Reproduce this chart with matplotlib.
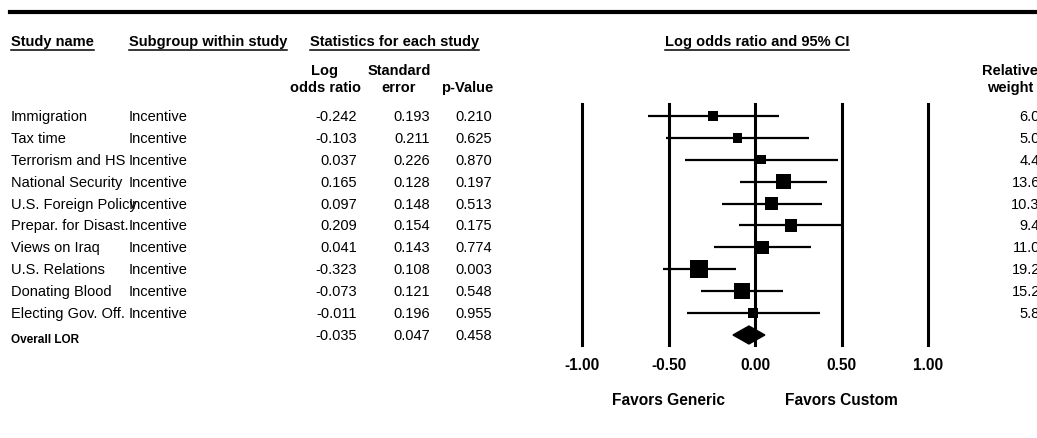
import numpy as np
import matplotlib
matplotlib.use('Agg')
import matplotlib.pyplot as plt
from matplotlib.lines import Line2D
from matplotlib.transforms import blended_transform_factory

studies = ['Immigration', 'Tax time', 'Terrorism and HS', 'National Security',
           'U.S. Foreign Policy', 'Prepar. for Disast.', 'Views on Iraq',
           'U.S. Relations', 'Donating Blood', 'Electing Gov. Off.']
subgroups = ['Incentive'] * 10
lor = [-0.242, -0.103, 0.037, 0.165, 0.097, 0.209, 0.041, -0.323, -0.073, -0.011]
se = [0.193, 0.211, 0.226, 0.128, 0.148, 0.154, 0.143, 0.108, 0.121, 0.196]
pval = [0.210, 0.625, 0.870, 0.197, 0.513, 0.175, 0.774, 0.003, 0.548, 0.955]
weights = [6.02, 5.04, 4.41, 13.63, 10.31, 9.42, 11.02, 19.24, 15.23, 5.84]
overall_lor, overall_se, overall_p = -0.035, 0.047, 0.458
ticks = [-1.0, -0.5, 0.0, 0.5, 1.0]

plt.rcParams['font.family'] = 'Liberation Sans'
W, H = 1037, 438
FS = 10.5
FS_AX = 11.2


def fx(x):
    return x / W


def fy(y):
    return 1 - y / H


fig = plt.figure(figsize=(W / 100, H / 100), dpi=100)

# thick rule at the top
fig.add_artist(Line2D([fx(10), fx(1037)], [fy(11.5), fy(11.5)], lw=3, color='black'))

# header row (underlined)
headers = [(11, 'Study name'), (129, 'Subgroup within study'), (310, 'Statistics for each study')]
hdr_texts = [fig.text(fx(x), fy(46), s, fontsize=FS, fontweight='bold', ha='left', va='baseline')
             for x, s in headers]
hdr_texts.append(fig.text(fx(757), fy(46), 'Log odds ratio and 95% CI', fontsize=FS,
                          fontweight='bold', ha='center', va='baseline'))

# column headers
col_hdr = [(325, 'Log', 'odds ratio'), (399, 'Standard', 'error'), (467, '', 'p-Value'),
           (1010, 'Relative', 'weight')]
for x, l1, l2 in col_hdr:
    fig.text(fx(x), fy(75), l1, fontsize=FS, fontweight='bold', ha='center', va='baseline')
    fig.text(fx(x), fy(92), l2, fontsize=FS, fontweight='bold', ha='center', va='baseline')

# table rows
row0, step = 121, 21.9
for i in range(len(studies)):
    yb = fy(row0 + i * step)
    fig.text(fx(11), yb, studies[i], fontsize=FS, va='baseline')
    fig.text(fx(129), yb, subgroups[i], fontsize=FS, va='baseline')
    fig.text(fx(357), yb, f'{lor[i]:.3f}', fontsize=FS, ha='right', va='baseline')
    fig.text(fx(430), yb, f'{se[i]:.3f}', fontsize=FS, ha='right', va='baseline')
    fig.text(fx(492), yb, f'{pval[i]:.3f}', fontsize=FS, ha='right', va='baseline')
    fig.text(fx(1048), yb, f'{weights[i]:.2f}', fontsize=FS, ha='right', va='baseline')

yb = fy(row0 + 10 * step)
fig.text(fx(11), fy(343), 'Overall LOR', fontsize=8.5, fontweight='bold', va='baseline')
fig.text(fx(357), yb, f'{overall_lor:.3f}', fontsize=FS, ha='right', va='baseline')
fig.text(fx(430), yb, f'{overall_se:.3f}', fontsize=FS, ha='right', va='baseline')
fig.text(fx(492), yb, f'{overall_p:.3f}', fontsize=FS, ha='right', va='baseline')

# forest plot
ax = fig.add_axes([fx(582), fy(345), (928 - 582) / W, (345 - 104) / H])
ax.set_xlim(-1, 1)
ax.set_ylim(10.457, -0.548)
for s in ax.spines.values():
    s.set_visible(False)
ax.set_yticks([])
ax.set_xticks(ticks, [f'{t:.2f}' for t in ticks], fontsize=FS_AX, fontweight='bold')
ax.tick_params(axis='x', length=0, pad=9)
for t in ticks:
    ax.axvline(t, color='black', lw=2.2, clip_on=False)

rows = np.arange(len(studies))
lor_a, se_a = np.array(lor), np.array(se)
ax.hlines(rows, lor_a - 1.96 * se_a, lor_a + 1.96 * se_a, color='black', lw=1.6, zorder=3)
side_pt = 4.1 * np.sqrt(weights) * 0.72
ax.scatter(lor_a, rows, marker='s', s=side_pt ** 2, color='black', linewidths=0, zorder=4)

lo, hi = overall_lor - 1.96 * overall_se, overall_lor + 1.96 * overall_se
ax.fill([lo, overall_lor, hi, overall_lor], [10, 9.59, 10, 10.41], color='black', zorder=4)

tr = blended_transform_factory(ax.transData, fig.transFigure)
ax.text(-0.5, fy(405), 'Favors Generic', transform=tr, fontsize=FS_AX, fontweight='bold',
        ha='center', va='baseline')
ax.text(0.5, fy(405), 'Favors Custom', transform=tr, fontsize=FS_AX, fontweight='bold',
        ha='center', va='baseline')

# underline header texts
fig.canvas.draw()
r = fig.canvas.get_renderer()
for t in hdr_texts:
    bb = t.get_window_extent(r)
    fig.add_artist(Line2D([bb.x0 / W, bb.x1 / W], [fy(50), fy(50)], lw=1.1, color='black'))

fig.savefig('out.png', dpi=100)
